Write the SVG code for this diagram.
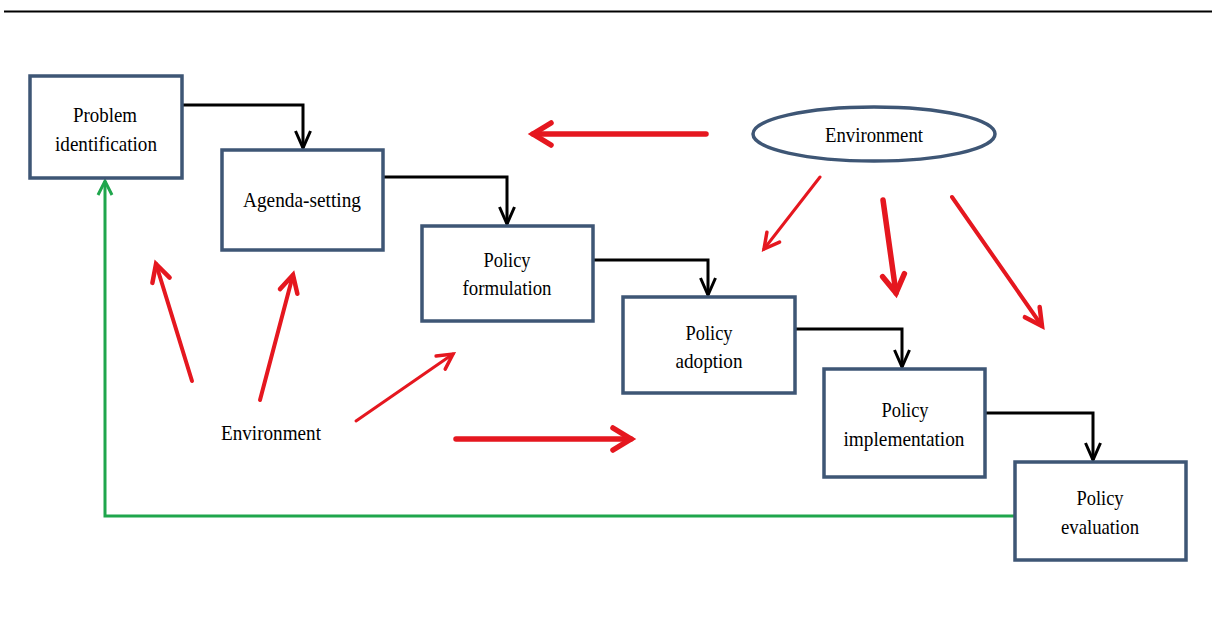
<svg xmlns="http://www.w3.org/2000/svg" width="1212" height="619" viewBox="0 0 1212 619">
  <defs>
    <style>
      .box { fill: #ffffff; stroke: #3e5675; stroke-width: 3.5; }
      .lbl { font-family: "Liberation Serif", "Times New Roman", serif; font-size: 22px; fill: #000; text-anchor: middle; }
      .flow { fill: none; stroke: #000; stroke-width: 3; marker-end: url(#headBlack); }
      .feedback { fill: none; stroke: #1fa64c; stroke-width: 3; marker-end: url(#headGreen); }
      .env { fill: none; stroke: #e5171f; stroke-linecap: round; }
      .w3 { stroke-width: 3; marker-end: url(#headRedS); }
      .w4 { stroke-width: 4; marker-end: url(#headRedM); }
      .w5 { stroke-width: 5.5; marker-end: url(#headRedL); }
    </style>
    <marker id="headBlack" markerUnits="userSpaceOnUse" orient="auto" overflow="visible" markerWidth="20" markerHeight="20" refX="0" refY="0">
      <path d="M-17,-7.5 L0,0 L-17,7.5" fill="none" stroke="#000" stroke-width="3"/>
    </marker>
    <marker id="headGreen" markerUnits="userSpaceOnUse" orient="auto" overflow="visible" markerWidth="20" markerHeight="20" refX="0" refY="0">
      <path d="M-14,-7 L0,0 L-14,7" fill="none" stroke="#1fa64c" stroke-width="3"/>
    </marker>
    <marker id="headRedS" markerUnits="userSpaceOnUse" orient="auto" overflow="visible" markerWidth="20" markerHeight="20" refX="0" refY="0">
      <path d="M-15,-8 L0,0 L-15,8" fill="none" stroke="#e5171f" stroke-width="3.5" stroke-linecap="round"/>
    </marker>
    <marker id="headRedM" markerUnits="userSpaceOnUse" orient="auto" overflow="visible" markerWidth="20" markerHeight="20" refX="0" refY="0">
      <path d="M-17,-9 L0,0 L-17,9" fill="none" stroke="#e5171f" stroke-width="4.5" stroke-linecap="round"/>
    </marker>
    <marker id="headRedL" markerUnits="userSpaceOnUse" orient="auto" overflow="visible" markerWidth="24" markerHeight="24" refX="0" refY="0">
      <path d="M-18,-11 L0,0 L-18,11" fill="none" stroke="#e5171f" stroke-width="5.5" stroke-linecap="round"/>
    </marker>
  </defs>

  <rect width="1212" height="619" fill="#ffffff"/>

  <!-- rule across the top -->
  <line x1="4" y1="11.5" x2="1212" y2="11.5" stroke="#000" stroke-width="2"/>

  <!-- connectors -->
  <g id="connectors">
    <!-- stage-to-stage flow -->
    <path class="flow" d="M182,105 H303 V148"/>
    <path class="flow" d="M383,177 H507 V224"/>
    <path class="flow" d="M593,260 H708 V295"/>
    <path class="flow" d="M795,329 H902 V367"/>
    <path class="flow" d="M985,413 H1093 V460"/>
    <!-- feedback from evaluation back to identification -->
    <path class="feedback" d="M1015,516 H105 V181"/>
    <!-- influences from the upper environment -->
    <line class="env w5" x1="706" y1="134" x2="533" y2="134"/>
    <line class="env w3" x1="820" y1="177" x2="764" y2="249"/>
    <line class="env w5" x1="883" y1="200" x2="896" y2="293"/>
    <line class="env w4" x1="952" y1="197" x2="1042" y2="326"/>
    <!-- influences from the lower environment -->
    <line class="env w4" x1="192" y1="381" x2="156" y2="264"/>
    <line class="env w4" x1="260" y1="400" x2="293" y2="275"/>
    <line class="env w3" x1="356" y1="421" x2="453" y2="354"/>
    <line class="env w5" x1="456" y1="439" x2="631" y2="439"/>
  </g>

  <!-- stages -->
  <g id="problem-identification">
    <rect class="box" x="30" y="76" width="152" height="102"/>
    <text class="lbl" x="105" y="122" textLength="64" lengthAdjust="spacingAndGlyphs">Problem</text>
    <text class="lbl" x="106" y="151" textLength="102" lengthAdjust="spacingAndGlyphs">identification</text>
  </g>
  <g id="agenda-setting">
    <rect class="box" x="222" y="150" width="161" height="100"/>
    <text class="lbl" x="302" y="207" textLength="118" lengthAdjust="spacingAndGlyphs">Agenda-setting</text>
  </g>
  <g id="policy-formulation">
    <rect class="box" x="422" y="226" width="171" height="95"/>
    <text class="lbl" x="507" y="267" textLength="47" lengthAdjust="spacingAndGlyphs">Policy</text>
    <text class="lbl" x="507" y="295" textLength="89" lengthAdjust="spacingAndGlyphs">formulation</text>
  </g>
  <g id="policy-adoption">
    <rect class="box" x="623" y="297" width="172" height="96"/>
    <text class="lbl" x="709" y="340" textLength="47" lengthAdjust="spacingAndGlyphs">Policy</text>
    <text class="lbl" x="709" y="368" textLength="67" lengthAdjust="spacingAndGlyphs">adoption</text>
  </g>
  <g id="policy-implementation">
    <rect class="box" x="824" y="369" width="161" height="108"/>
    <text class="lbl" x="905" y="417" textLength="47" lengthAdjust="spacingAndGlyphs">Policy</text>
    <text class="lbl" x="904" y="446" textLength="121" lengthAdjust="spacingAndGlyphs">implementation</text>
  </g>
  <g id="policy-evaluation">
    <rect class="box" x="1015" y="462" width="171" height="98"/>
    <text class="lbl" x="1100" y="505" textLength="47" lengthAdjust="spacingAndGlyphs">Policy</text>
    <text class="lbl" x="1100" y="534" textLength="78" lengthAdjust="spacingAndGlyphs">evaluation</text>
  </g>

  <!-- environment sources -->
  <g id="environment-upper">
    <ellipse cx="874" cy="134" rx="121" ry="27" fill="#ffffff" stroke="#3e5675" stroke-width="3.5"/>
    <text class="lbl" x="874" y="142" textLength="98" lengthAdjust="spacingAndGlyphs">Environment</text>
  </g>
  <g id="environment-lower">
    <text class="lbl" x="271" y="440" textLength="100" lengthAdjust="spacingAndGlyphs">Environment</text>
  </g>
</svg>
